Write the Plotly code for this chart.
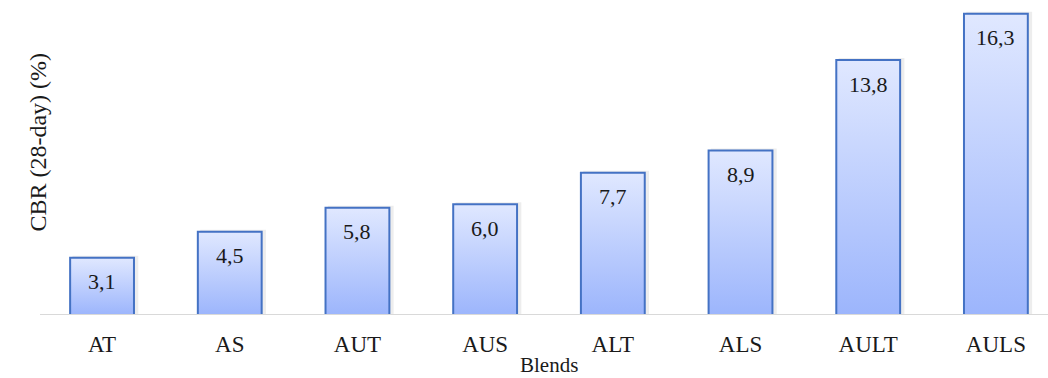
import plotly.graph_objects as go

blends = ["AT", "AS", "AUT", "AUS", "ALT", "ALS", "AULT", "AULS"]
cbr_28day = [3.1, 4.5, 5.8, 6.0, 7.7, 8.9, 13.8, 16.3]
value_labels = ["3,1", "4,5", "5,8", "6,0", "7,7", "8,9", "13,8", "16,3"]

FONT = "Liberation Serif"
HALF_W = 0.25
SHADOW_DX = 0.018

fig = go.Figure()

# Soft drop shadow behind each bar
for i, v in enumerate(cbr_28day):
    xs = [i - HALF_W + SHADOW_DX, i + HALF_W + SHADOW_DX, i + HALF_W + SHADOW_DX]
    ys = [v, v, 0]
    fig.add_trace(go.Scatter(
        x=xs, y=ys, mode="lines", line=dict(color="rgba(0,0,0,0.07)", width=4),
        hoverinfo="skip", showlegend=False,
    ))

# Each bar is a closed polygon so it can carry a vertical gradient fill
for i, (name, v) in enumerate(zip(blends, cbr_28day)):
    xs = [i - HALF_W, i - HALF_W, i + HALF_W, i + HALF_W, i - HALF_W]
    ys = [0, v, v, 0, 0]
    fig.add_trace(go.Scatter(
        x=xs, y=ys, mode="lines", fill="toself",
        line=dict(color="#4472c4", width=2),
        fillgradient=dict(type="vertical",
                          colorscale=[[0, "#9cb5fc"], [1, "#e0e8ff"]]),
        hoverinfo="skip", showlegend=False, name=name,
    ))

for i, (v, lab) in enumerate(zip(cbr_28day, value_labels)):
    fig.add_annotation(x=i, y=v, text=lab, showarrow=False, yshift=-24,
                       font=dict(family=FONT, size=22, color="#1a1a1a"))

# Category baseline
fig.add_shape(type="line", xref="paper", yref="y", x0=0, x1=1, y0=0, y1=0,
              line=dict(color="#d9d9d9", width=2))

fig.add_annotation(xref="paper", yref="paper", x=-0.017, y=0.55,
                   text="CBR (28-day) (%)", textangle=-90, showarrow=False,
                   font=dict(family=FONT, size=24, color="#1a1a1a"))

fig.add_annotation(xref="x", yref="paper", x=3.5, y=-0.158, yanchor="middle",
                   text="Blends", showarrow=False,
                   font=dict(family=FONT, size=21, color="#1a1a1a"))

fig.update_layout(
    width=1048, height=378,
    margin=dict(l=40, r=0, t=0, b=63),
    paper_bgcolor="white", plot_bgcolor="white",
    xaxis=dict(range=[-0.486, 7.408], tickvals=list(range(len(blends))),
               ticktext=blends, showgrid=False, zeroline=False, showline=False,
               ticks="", ticklabelstandoff=13,
               tickfont=dict(family=FONT, size=23, color="#1a1a1a")),
    yaxis=dict(range=[0, 17.05], showgrid=False, zeroline=False,
               showticklabels=False, showline=False, ticks=""),
)

fig.write_html("out.html")
